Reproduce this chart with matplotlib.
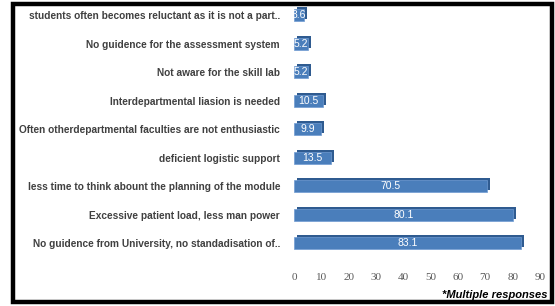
import matplotlib
matplotlib.use("Agg")
import matplotlib.pyplot as plt
import matplotlib.transforms as mtransforms
from matplotlib.patches import Rectangle

# bottom to top, as drawn
categories = [
    "No guidence from University, no standadisation of..",
    "Excessive patient load, less man power",
    "less time to think abount the planning of the module",
    "deficient logistic support",
    "Often otherdepartmental faculties are not enthusiastic",
    "Interdepartmental liasion is needed",
    "Not aware for the skill lab",
    "No guidence for the assessment system",
    "students often becomes reluctant as it is not a part..",
]
values = [83.1, 80.1, 70.5, 13.5, 9.9, 10.5, 5.2, 5.2, 3.6]
xticks = [0, 10, 20, 30, 40, 50, 60, 70, 80, 90]

front = "#4A7EBB"
side = "#2F5B90"

fig = plt.figure(figsize=(5.55, 3.06), dpi=100)
ax = fig.add_axes([0.5297, 0.122, 0.4432, 0.8745])

y = list(range(len(categories)))
# depth of the 3d look, shifted a few pixels right and up
shift = mtransforms.offset_copy(ax.transData, fig=fig, x=3, y=2, units="dots")
ax.barh(y, values, height=0.42, color=side, transform=shift, zorder=2)
ax.barh(y, values, height=0.42, color=front, edgecolor="#6F9BD2",
        linewidth=0.5, zorder=3)

for yi, v in zip(y, values):
    ax.text(v / 2, yi, f"{v}", color="white", ha="center", va="center",
            fontsize=7.5, family=["Liberation Sans", "DejaVu Sans"], zorder=4)

ax.set_xlim(0, 90)
ax.set_ylim(-0.9, 8.5)
ax.set_xticks(xticks)
ax.set_xticklabels([str(t) for t in xticks], color="#595959", fontsize=8,
                   family=["Liberation Serif", "DejaVu Serif"])
ax.set_yticks(y)
ax.set_yticklabels(categories, color="#404040", fontsize=7.3, fontweight="bold",
                   family=["Liberation Sans", "DejaVu Sans"])
ax.tick_params(axis="both", length=0)
ax.tick_params(axis="y", pad=10)
ax.tick_params(axis="x", pad=3)
for s in ax.spines.values():
    s.set_visible(False)

fig.text(547 / 555, 1 - 295 / 306, "*Multiple responses", ha="right", va="center",
         fontsize=8, fontweight="bold", style="italic",
         family=["Liberation Sans", "DejaVu Sans"])

# black frame around the whole chart
fig.patches.append(Rectangle((13 / 555, 4 / 306), 538.5 / 555, 298 / 306,
                             transform=fig.transFigure, fill=False,
                             edgecolor="black", linewidth=3.2))

fig.savefig("out.png", dpi=100)
